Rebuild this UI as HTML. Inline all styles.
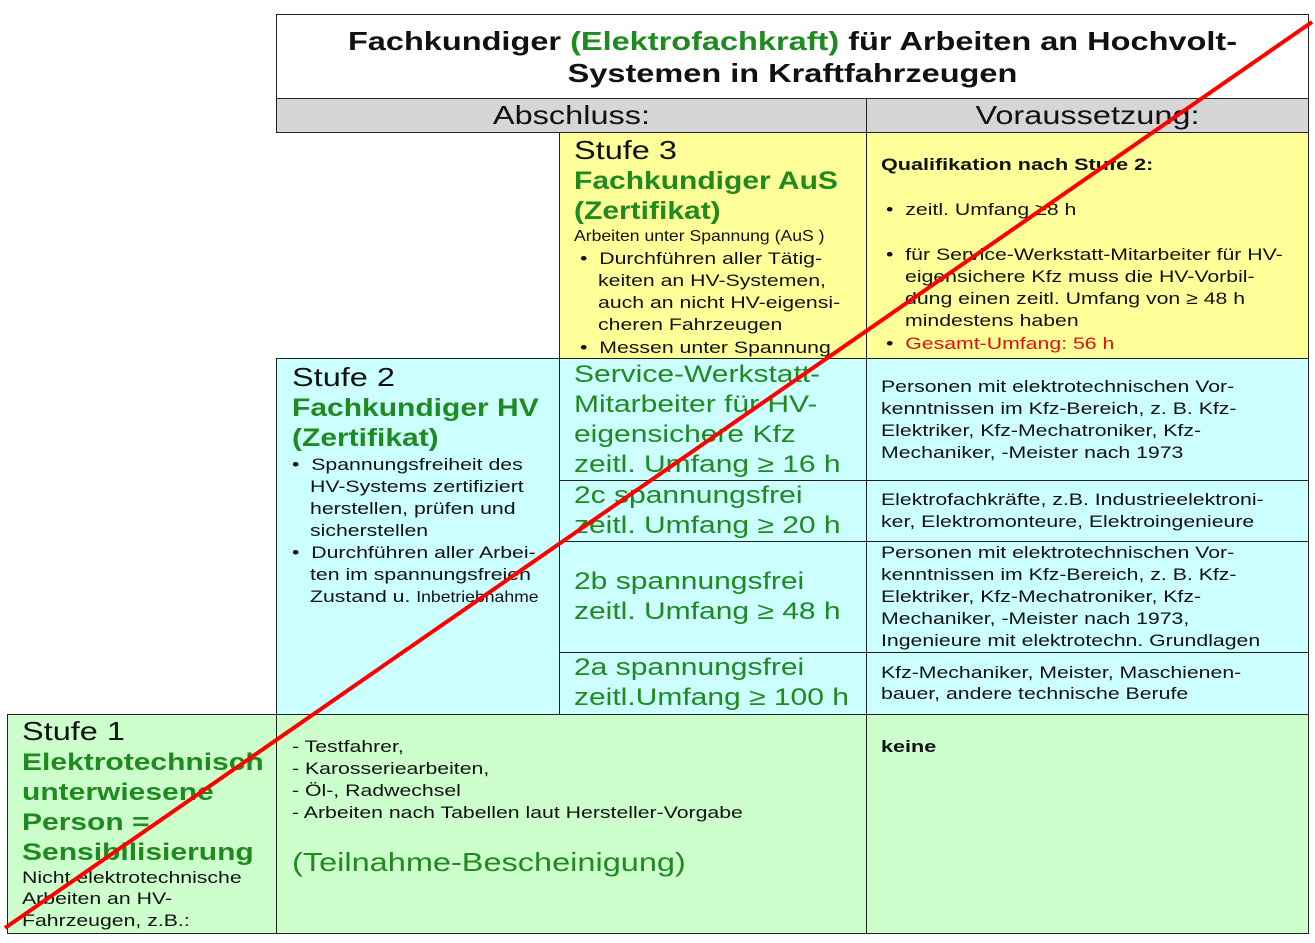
<!DOCTYPE html>
<html><head><meta charset="utf-8"><style>
body{margin:0;width:1315px;height:943px;background:#fff;position:relative;overflow:hidden;font-family:"Liberation Sans",sans-serif;color:#111}
.b{position:absolute;border:1.5px solid #222;box-sizing:border-box}
.t{position:absolute;white-space:nowrap;transform:scaleX(1.25);transform-origin:left}
.c{transform-origin:center}
.g{color:#1f8a1f}
.bo{font-weight:bold}
.s17{font-size:17px;line-height:20px}
.s26{font-size:26px;line-height:30px}
.s25{font-size:25px;line-height:30px}
.s24{font-size:24px;line-height:30px}
.s25.bo{transform:scaleX(1.2)}
.sb{font-size:17px;line-height:20px;font-weight:bold;transform:scaleX(1.27)}
.cond{font-size:16px;line-height:20px;transform:scaleX(1.1)}
</style></head><body>
<!-- boxes -->
<div class="b" style="left:276px;top:14px;width:1033px;height:85px;background:#fff"></div>
<div class="b" style="left:276px;top:98px;width:591px;height:35px;background:#d6d6d6"></div>
<div class="b" style="left:866px;top:98px;width:443px;height:35px;background:#d6d6d6"></div>
<div class="b" style="left:559px;top:132px;width:308px;height:227px;background:#ffff99"></div>
<div class="b" style="left:866px;top:132px;width:443px;height:227px;background:#ffff99"></div>
<div class="b" style="left:276px;top:358px;width:284px;height:357px;background:#ccffff"></div>
<div class="b" style="left:559px;top:358px;width:308px;height:123px;background:#ccffff"></div>
<div class="b" style="left:866px;top:358px;width:443px;height:123px;background:#ccffff"></div>
<div class="b" style="left:559px;top:480px;width:308px;height:62px;background:#ccffff"></div>
<div class="b" style="left:866px;top:480px;width:443px;height:62px;background:#ccffff"></div>
<div class="b" style="left:559px;top:541px;width:308px;height:112px;background:#ccffff"></div>
<div class="b" style="left:866px;top:541px;width:443px;height:112px;background:#ccffff"></div>
<div class="b" style="left:559px;top:652px;width:308px;height:63px;background:#ccffff"></div>
<div class="b" style="left:866px;top:652px;width:443px;height:63px;background:#ccffff"></div>
<div class="b" style="left:7px;top:714px;width:270px;height:220px;background:#ccffcc"></div>
<div class="b" style="left:276px;top:714px;width:591px;height:220px;background:#ccffcc"></div>
<div class="b" style="left:866px;top:714px;width:443px;height:220px;background:#ccffcc"></div>

<!-- title -->
<div class="t c bo s26" style="left:276px;width:1033px;text-align:center;top:26px">Fachkundiger <span class="g">(Elektrofachkraft)</span> für Arbeiten an Hochvolt-</div>
<div class="t c bo s26" style="left:276px;width:1033px;text-align:center;top:58px">Systemen in Kraftfahrzeugen</div>
<div class="t c s26" style="left:276px;width:591px;text-align:center;top:100px">Abschluss:</div>
<div class="t c s26" style="left:866px;width:443px;text-align:center;top:100px">Voraussetzung:</div>

<!-- Stufe 3 -->
<div class="t s26" style="left:574px;top:135px">Stufe 3</div>
<div class="t s25 g bo" style="left:574px;top:166px">Fachkundiger AuS</div>
<div class="t s25 g bo" style="left:574px;top:196px">(Zertifikat)</div>
<div class="t cond" style="left:574px;top:227px">Arbeiten unter Spannung (AuS )</div>
<div class="t s17" style="left:580px;top:249px">•&nbsp; Durchführen aller Tätig-</div>
<div class="t s17" style="left:598px;top:271px">keiten an HV-Systemen,</div>
<div class="t s17" style="left:598px;top:293px">auch an nicht HV-eigensi-</div>
<div class="t s17" style="left:598px;top:315px">cheren Fahrzeugen</div>
<div class="t s17" style="left:580px;top:338px">•&nbsp; Messen unter Spannung</div>

<div class="t sb" style="left:881px;top:155px">Qualifikation nach Stufe 2:</div>
<div class="t s17" style="left:886px;top:200px">•&nbsp; zeitl. Umfang ≥8 h</div>
<div class="t s17" style="left:886px;top:245px">•&nbsp; für Service-Werkstatt-Mitarbeiter für HV-</div>
<div class="t s17" style="left:905px;top:267px">eigensichere Kfz muss die HV-Vorbil-</div>
<div class="t s17" style="left:905px;top:289px">dung einen zeitl. Umfang von ≥ 48 h</div>
<div class="t s17" style="left:905px;top:311px">mindestens haben</div>
<div class="t s17" style="left:886px;top:334px">•&nbsp; <span style="color:#e01010">Gesamt-Umfang: 56 h</span></div>

<!-- Stufe 2 -->
<div class="t s26" style="left:292px;top:362px">Stufe 2</div>
<div class="t s25 g bo" style="left:292px;top:393px">Fachkundiger HV</div>
<div class="t s25 g bo" style="left:292px;top:423px">(Zertifikat)</div>
<div class="t s17" style="left:292px;top:455px">•&nbsp; Spannungsfreiheit des</div>
<div class="t s17" style="left:310px;top:477px">HV-Systems zertifiziert</div>
<div class="t s17" style="left:310px;top:499px">herstellen, prüfen und</div>
<div class="t s17" style="left:310px;top:521px">sicherstellen</div>
<div class="t s17" style="left:292px;top:543px">•&nbsp; Durchführen aller Arbei-</div>
<div class="t s17" style="left:310px;top:565px">ten im spannungsfreien</div>
<div class="t s17" style="left:310px;top:587px">Zustand u. <span style="font-size:16px;display:inline-block;transform:scaleX(0.88);transform-origin:left">Inbetriebnahme</span></div>

<div class="t s24 g" style="left:574px;top:360px">Service-Werkstatt-</div>
<div class="t s24 g" style="left:574px;top:390px">Mitarbeiter für HV-</div>
<div class="t s24 g" style="left:574px;top:420px">eigensichere Kfz</div>
<div class="t s24 g" style="left:574px;top:450px">zeitl. Umfang ≥ 16 h</div>
<div class="t s24 g" style="left:574px;top:481px">2c spannungsfrei</div>
<div class="t s24 g" style="left:574px;top:511px">zeitl. Umfang ≥ 20 h</div>
<div class="t s24 g" style="left:574px;top:567px">2b spannungsfrei</div>
<div class="t s24 g" style="left:574px;top:597px">zeitl. Umfang ≥ 48 h</div>
<div class="t s24 g" style="left:574px;top:653px">2a spannungsfrei</div>
<div class="t s24 g" style="left:574px;top:683px">zeitl.Umfang ≥ 100 h</div>

<div class="t s17" style="left:881px;top:377px">Personen mit elektrotechnischen Vor-</div>
<div class="t s17" style="left:881px;top:399px">kenntnissen im Kfz-Bereich, z. B. Kfz-</div>
<div class="t s17" style="left:881px;top:421px">Elektriker, Kfz-Mechatroniker, Kfz-</div>
<div class="t s17" style="left:881px;top:443px">Mechaniker, -Meister nach 1973</div>
<div class="t s17" style="left:881px;top:490px">Elektrofachkräfte, z.B. Industrieelektroni-</div>
<div class="t s17" style="left:881px;top:512px">ker, Elektromonteure, Elektroingenieure</div>
<div class="t s17" style="left:881px;top:543px">Personen mit elektrotechnischen Vor-</div>
<div class="t s17" style="left:881px;top:565px">kenntnissen im Kfz-Bereich, z. B. Kfz-</div>
<div class="t s17" style="left:881px;top:587px">Elektriker, Kfz-Mechatroniker, Kfz-</div>
<div class="t s17" style="left:881px;top:609px">Mechaniker, -Meister nach 1973,</div>
<div class="t s17" style="left:881px;top:631px">Ingenieure mit elektrotechn. Grundlagen</div>
<div class="t s17" style="left:881px;top:663px">Kfz-Mechaniker, Meister, Maschienen-</div>
<div class="t s17" style="left:881px;top:684px">bauer, andere technische Berufe</div>

<!-- Stufe 1 -->
<div class="t s26" style="left:22px;top:716px">Stufe 1</div>
<div class="t s24 g bo" style="left:22px;top:748px">Elektrotechnisch</div>
<div class="t s24 g bo" style="left:22px;top:778px">unterwiesene</div>
<div class="t s24 g bo" style="left:22px;top:808px">Person =</div>
<div class="t s24 g bo" style="left:22px;top:838px">Sensibilisierung</div>
<div class="t s17" style="left:22px;top:868px">Nicht elektrotechnische</div>
<div class="t s17" style="left:22px;top:889px">Arbeiten an HV-</div>
<div class="t s17" style="left:22px;top:911px">Fahrzeugen, z.B.:</div>

<div class="t s17" style="left:292px;top:737px">- Testfahrer,</div>
<div class="t s17" style="left:292px;top:759px">- Karosseriearbeiten,</div>
<div class="t s17" style="left:292px;top:781px">- Öl-, Radwechsel</div>
<div class="t s17" style="left:292px;top:803px">- Arbeiten nach Tabellen laut Hersteller-Vorgabe</div>
<div class="t g" style="left:292px;top:846px;font-size:26px;line-height:32px">(Teilnahme-Bescheinigung)</div>
<div class="t sb" style="left:881px;top:737px">keine</div>

<svg style="position:absolute;left:0;top:0" width="1315" height="943"><line x1="5" y1="928" x2="1312" y2="22" stroke="#ff0000" stroke-width="4"/></svg>
</body></html>
